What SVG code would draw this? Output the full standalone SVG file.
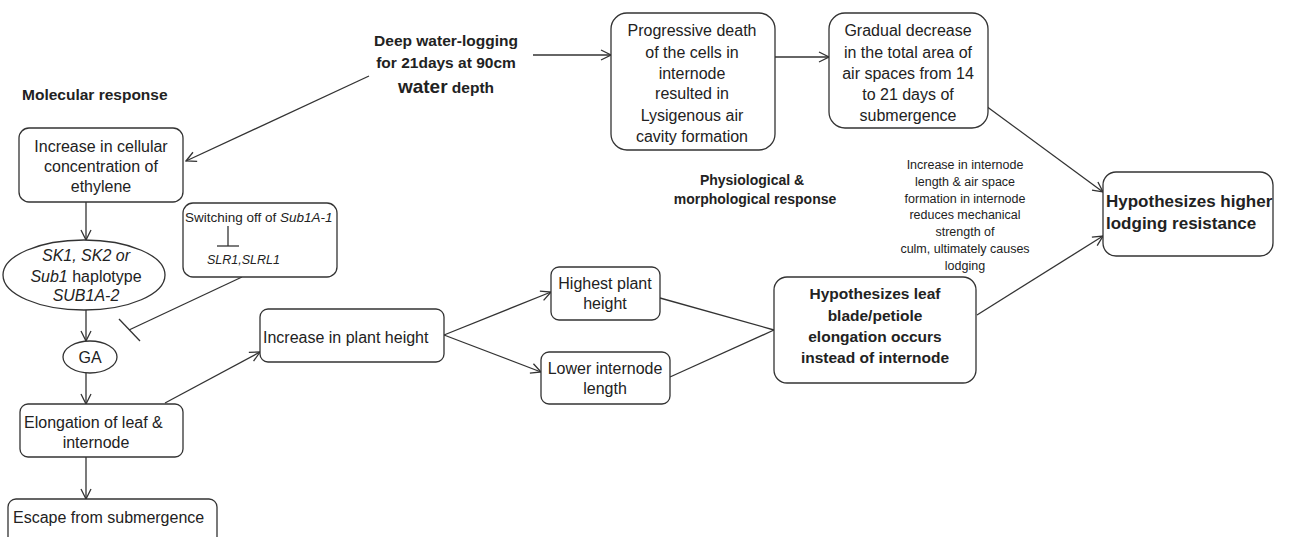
<svg xmlns="http://www.w3.org/2000/svg" width="1298" height="537" viewBox="0 0 1298 537">
<style>
text{font-family:"Liberation Sans",Arial,sans-serif;fill:#222;}
.t{font-size:16px;text-anchor:middle;}
.tb{font-size:15.5px;text-anchor:middle;font-weight:bold;}
.b{font-weight:bold;}
.i{font-style:italic;}
.s{font-size:12.5px;text-anchor:middle;}
.box{fill:#fff;stroke:#333;stroke-width:1.3;}
.ln{fill:none;stroke:#333;stroke-width:1.3;}
</style>
<defs>
<marker id="arr" viewBox="0 0 12 12" refX="11" refY="6" markerWidth="12" markerHeight="12" orient="auto" markerUnits="userSpaceOnUse">
<path d="M1,1 L11,6 L1,11" fill="none" stroke="#333" stroke-width="1.3"/>
</marker>
</defs>
<rect width="1298" height="537" fill="#fff"/>

<g id="connectors">
<line class="ln" x1="369" y1="76" x2="186" y2="161" marker-end="url(#arr)"/>
<line class="ln" x1="533" y1="55" x2="611" y2="55" marker-end="url(#arr)"/>
<line class="ln" x1="775" y1="57" x2="829" y2="57" marker-end="url(#arr)"/>
<line class="ln" x1="986" y1="106" x2="1103" y2="192" marker-end="url(#arr)"/>
<line class="ln" x1="86" y1="202" x2="86" y2="240" marker-end="url(#arr)"/>
<line class="ln" x1="86" y1="310" x2="86" y2="341" marker-end="url(#arr)"/>
<line class="ln" x1="86" y1="372" x2="86" y2="404" marker-end="url(#arr)"/>
<line class="ln" x1="86" y1="457" x2="86" y2="499" marker-end="url(#arr)"/>
<line class="ln" x1="242" y1="277" x2="129" y2="330"/>
<line class="ln" x1="119" y1="319" x2="140" y2="341"/>
<line class="ln" x1="165" y1="403" x2="260" y2="352" marker-end="url(#arr)"/>
<line class="ln" x1="444" y1="335" x2="551" y2="292" marker-end="url(#arr)"/>
<line class="ln" x1="444" y1="335" x2="541" y2="372" marker-end="url(#arr)"/>
<line class="ln" x1="660" y1="298" x2="774" y2="330"/>
<line class="ln" x1="670" y1="377" x2="774" y2="330"/>
<line class="ln" x1="977" y1="315" x2="1103" y2="236" marker-end="url(#arr)"/>
</g>

<g id="label-deep">
<text class="tb" x="446" y="46">Deep water-logging</text>
<text class="tb" x="446" y="68">for 21days at 90cm</text>
<text class="tb" x="446" y="93"><tspan font-size="19px">water</tspan> depth</text>
</g>

<g id="label-molecular">
<text class="b" x="22" y="100" font-size="15.5px">Molecular  response</text>
</g>

<g id="label-physio">
<text class="b" x="752" y="185" font-size="14px" text-anchor="middle">Physiological  &amp;</text>
<text class="b" x="755" y="204" font-size="14px" text-anchor="middle">morphological  response</text>
</g>

<g id="label-note">
<text class="s" x="965" y="169">Increase in internode</text>
<text class="s" x="965" y="186">length &amp; air space</text>
<text class="s" x="965" y="203">formation in internode</text>
<text class="s" x="965" y="219">reduces mechanical</text>
<text class="s" x="965" y="236">strength of</text>
<text class="s" x="965" y="253">culm, ultimately causes</text>
<text class="s" x="965" y="270">lodging</text>
</g>

<g id="node-progressive">
<rect class="box" x="611" y="13" width="164" height="137" rx="16"/>
<text class="t" x="692" y="36">Progressive death</text>
<text class="t" x="692" y="58">of the cells in</text>
<text class="t" x="692" y="79">internode</text>
<text class="t" x="692" y="99">resulted in</text>
<text class="t" x="692" y="121">Lysigenous air</text>
<text class="t" x="692" y="142">cavity formation</text>
</g>

<g id="node-gradual">
<rect class="box" x="829" y="13" width="159" height="115" rx="16"/>
<text class="t" x="908" y="36">Gradual decrease</text>
<text class="t" x="908" y="58">in the total area of</text>
<text class="t" x="908" y="79">air spaces from 14</text>
<text class="t" x="908" y="100">to 21 days of</text>
<text class="t" x="908" y="121">submergence</text>
</g>

<g id="node-ethylene">
<rect class="box" x="19" y="128" width="164" height="74" rx="10"/>
<text class="t" x="101" y="152">Increase in cellular</text>
<text class="t" x="101" y="172">concentration  of</text>
<text class="t" x="101" y="192">ethylene</text>
</g>

<g id="node-sk">
<ellipse class="box" cx="84" cy="275" rx="81" ry="35"/>
<text class="t i" x="86" y="261">SK1, SK2 or</text>
<text class="t" x="86" y="282"><tspan font-style="italic">Sub1</tspan> haplotype</text>
<text class="t i" x="86" y="301">SUB1A-2</text>
</g>

<g id="node-switch">
<rect class="box" x="183" y="203" width="154" height="74" rx="10"/>
<text x="185" y="222" font-size="13.5px">Switching off of <tspan font-style="italic">Sub1A-1</tspan></text>
<line class="ln" x1="228" y1="226" x2="228" y2="246"/>
<line class="ln" x1="217" y1="246" x2="239" y2="246"/>
<text class="i" x="207" y="264" font-size="12.5px">SLR1,SLRL1</text>
</g>

<g id="node-ga">
<ellipse class="box" cx="90" cy="357" rx="27" ry="16"/>
<text class="t" x="90" y="363">GA</text>
</g>

<g id="node-elongation">
<rect class="box" x="20" y="404" width="163" height="53" rx="8"/>
<text x="24" y="428" font-size="16px">Elongation of leaf &amp;</text>
<text class="t" x="96" y="448">internode</text>
</g>

<g id="node-escape">
<rect class="box" x="8" y="499" width="209" height="50" rx="8"/>
<text x="13" y="523" font-size="16px">Escape from submergence</text>
</g>

<g id="node-plant-height">
<rect class="box" x="260" y="309" width="184" height="53" rx="8"/>
<text x="263" y="343" font-size="16px">Increase in plant height</text>
</g>

<g id="node-highest">
<rect class="box" x="551" y="267" width="109" height="53" rx="8"/>
<text class="t" x="605" y="289">Highest plant</text>
<text class="t" x="605" y="309">height</text>
</g>

<g id="node-lower">
<rect class="box" x="541" y="352" width="129" height="52" rx="8"/>
<text class="t" x="605" y="374">Lower internode</text>
<text class="t" x="605" y="394">length</text>
</g>

<g id="node-leaf">
<rect class="box" x="774" y="277" width="202" height="106" rx="13"/>
<text class="tb" x="875" y="299">Hypothesizes leaf</text>
<text class="tb" x="875" y="321">blade/petiole</text>
<text class="tb" x="875" y="342">elongation occurs</text>
<text class="tb" x="875" y="363">instead of internode</text>
</g>

<g id="node-lodging">
<rect class="box" x="1103" y="172" width="170" height="84" rx="13"/>
<text class="b" x="1106" y="207" font-size="17px">Hypothesizes higher</text>
<text class="b" x="1106" y="229" font-size="17px">lodging resistance</text>
</g>
</svg>
